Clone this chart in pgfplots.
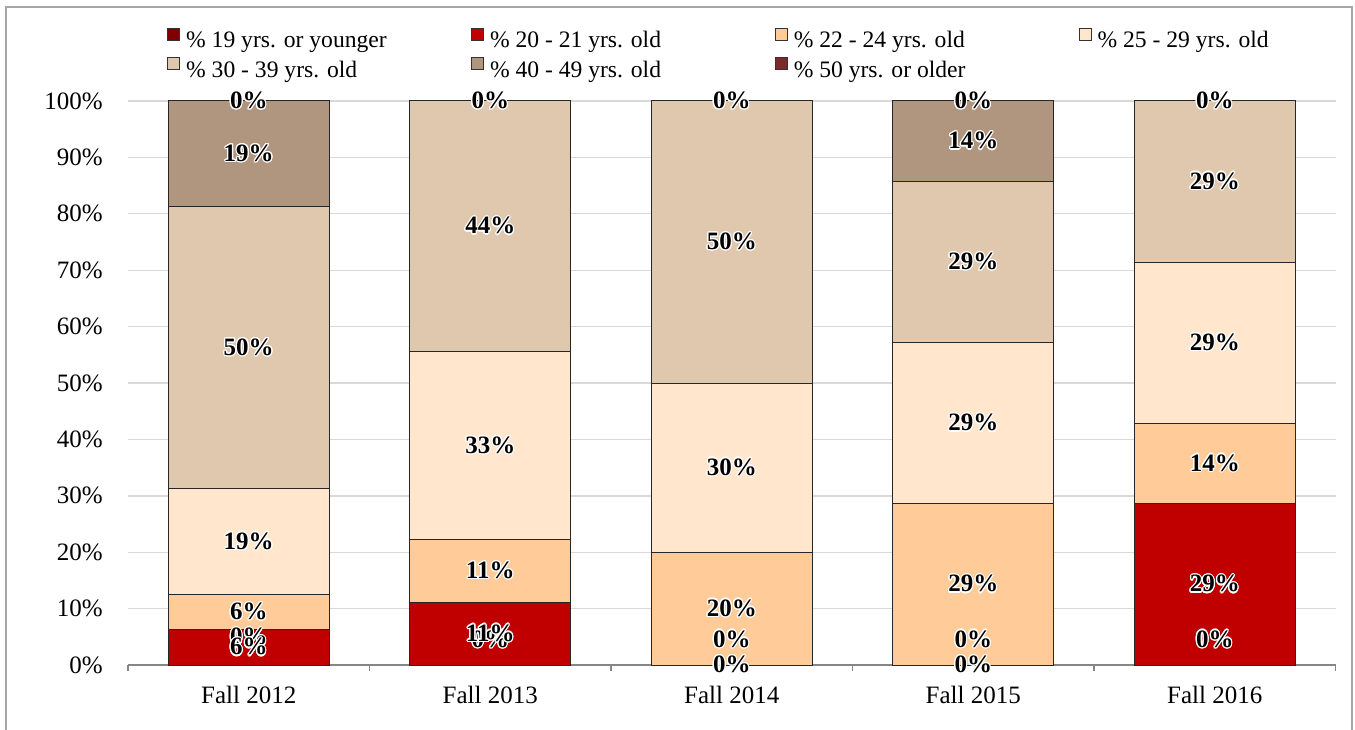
\documentclass[border=0pt]{standalone}
\usepackage{pgfplots}
\pgfplotsset{compat=1.18}
\usepackage{pgfplotstable}
\usepackage{fontspec}
\setmainfont{Liberation Serif}
\usepackage{contour}
\contourlength{0.6pt}
\definecolor{c1}{HTML}{800000}
\definecolor{c2}{HTML}{C00000}
\definecolor{c3}{HTML}{FFCC99}
\definecolor{c4}{HTML}{FFE6CD}
\definecolor{c5}{HTML}{E0C8AE}
\definecolor{c6}{HTML}{B0967E}
\definecolor{c7}{HTML}{772B2B}
\definecolor{gridc}{HTML}{D9D9D9}
\definecolor{axc}{HTML}{868686}
\definecolor{framec}{HTML}{A6A6A6}

\pgfplotstableread{
x s1 s2 s3 s4 s5 s6 s7
0 0 6.25 6.25 18.75 50 18.75 0
1 0 11.11 11.11 33.33 44.45 0 0
2 0 0 20 30 50 0 0
3 0 0 28.57 28.57 28.57 14.29 0
4 0 28.57 14.29 28.57 28.57 0 0
}\agedata

\pgfplotstableread{
x y lab
0 4.9 0
1 4.5 0
2 4.5 0
3 4.5 0
4 4.5 0
2 0 0
3 0 0
0 3.125 6
0 9.375 6
0 21.875 19
0 56.25 50
0 90.625 19
0 100 0
1 5.56 11
1 16.67 11
1 38.89 33
1 77.78 44
1 100 0
2 10 20
2 35 30
2 75 50
2 100 0
3 14.29 29
3 42.86 29
3 71.43 29
3 92.86 14
3 100 0
4 14.29 29
4 35.71 14
4 57.14 29
4 85.71 29
4 100 0
}\labdata

\newcommand{\lf}{\fontsize{12.5}{15}\selectfont}
\newcommand{\legf}{\fontsize{11.8}{14}\selectfont}
\newcommand{\lt}[1]{\makebox[142.5pt][l]{#1}}

\begin{document}
\begin{tikzpicture}
\useasboundingbox (-64pt,-32pt) rectangle (613.5pt,332.5pt);
\draw[framec, line width=1pt] (-60.75pt,-40pt) rectangle (612pt,328.75pt);
\begin{axis}[
  at={(0,0)}, anchor=south west,
  width=603.75pt, height=282pt, scale only axis,
  ybar stacked, bar width=0.6667,
  xmin=-0.5, xmax=4.5, ymin=0, ymax=100,
  axis x line*=bottom, axis y line*=left,
  y axis line style={draw=none},
  x axis line style={axc, line width=0.8pt},
  xtick={0,1,2,3,4},
  xticklabels={Fall 2012, Fall 2013, Fall 2014, Fall 2015, Fall 2016},
  minor xtick={-0.5,0.5,1.5,2.5,3.5,4.5},
  major tick length=0pt, minor tick length=3pt,
  tick align=outside,
  minor tick style={axc, line width=0.8pt},
  ytick={0,10,...,100},
  yticklabel={\pgfmathprintnumber{\tick}\%},
  /pgf/number format/assume math mode=true,
  ymajorgrids, grid style={gridc, line width=0.7pt},
  ticklabel style={font=\lf},
  yticklabel style={anchor=east, inner sep=0pt, xshift=-12.5pt},
  xticklabel style={anchor=north, inner sep=0pt, yshift=-10.5pt},
  every axis plot post/.append style={
    legend image code/.code={\draw[##1,/tikz/.cd,draw=black!80,line width=0.4pt] (0pt,0.6pt) rectangle (6pt,6.6pt);}},
  legend columns=4,
  legend style={at={(axis description cs:0.0323,1.1305)}, anchor=north west,
    draw=none, fill=none, font=\legf, inner sep=0pt,
    nodes={inner sep=0pt, text height=9pt, text depth=3pt},
    row sep=2pt,
    /tikz/every odd column/.append style={column sep=3pt}},
  legend cell align=left,
]
\addplot[fill=c1, draw=black!85, line width=0.5pt] table[x=x,y=s1]{\agedata};
\addlegendentry{\lt{\% 19 yrs. or younger}}
\addplot[fill=c2, draw=black!85, line width=0.5pt] table[x=x,y=s2]{\agedata};
\addlegendentry{\lt{\% 20 - 21 yrs. old}}
\addplot[fill=c3, draw=black!85, line width=0.5pt] table[x=x,y=s3]{\agedata};
\addlegendentry{\lt{\% 22 - 24 yrs. old}}
\addplot[fill=c4, draw=black!85, line width=0.5pt] table[x=x,y=s4]{\agedata};
\addlegendentry{\lt{\% 25 - 29 yrs. old}}
\addplot[fill=c5, draw=black!85, line width=0.5pt] table[x=x,y=s5]{\agedata};
\addlegendentry{\lt{\% 30 - 39 yrs. old}}
\addplot[fill=c6, draw=black!85, line width=0.5pt] table[x=x,y=s6]{\agedata};
\addlegendentry{\lt{\% 40 - 49 yrs. old}}
\addplot[fill=c7, draw=black!85, line width=0.5pt] table[x=x,y=s7]{\agedata};
\addlegendentry{\lt{\% 50 yrs. or older}}
\end{axis}
\begin{axis}[
  at={(0,0)}, anchor=south west,
  width=603.75pt, height=282pt, scale only axis,
  xmin=-0.5, xmax=4.5, ymin=0, ymax=100,
  hide axis, clip=false,
]
\addplot[draw=none, mark=none, point meta=explicit symbolic,
  nodes near coords={\contour{white}{\pgfplotspointmeta\%}},
  every node near coord/.style={anchor=center, inner sep=0pt, font=\lf\bfseries, text=black}]
  table[x=x,y=y,meta=lab]{\labdata};
\end{axis}
\end{tikzpicture}
\end{document}
